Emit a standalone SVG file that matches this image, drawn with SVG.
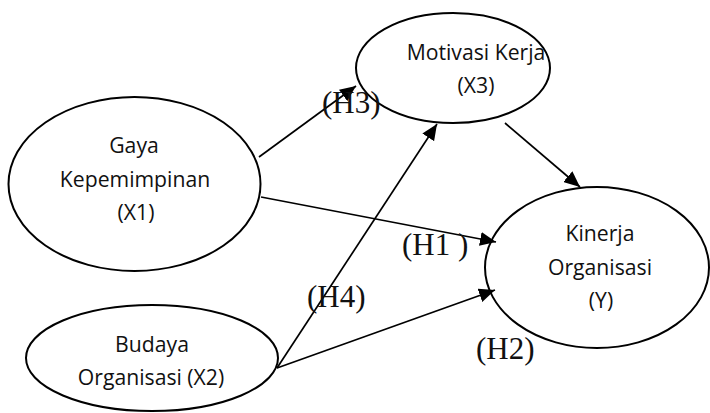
<svg xmlns="http://www.w3.org/2000/svg" width="710" height="413" viewBox="0 0 710 413">
<style>
.node ellipse{fill:#fff;stroke:#000;stroke-width:2}
.node text{font-family:"Open Sans","Liberation Sans",sans-serif;font-size:21.2px;fill:#111;text-anchor:middle}
.edges line{stroke:#000;stroke-width:1.7;marker-end:url(#arr)}
.lbl{font-family:"Liberation Serif","Times New Roman",serif;font-size:31px;fill:#111}
</style>
<defs>
<marker id="arr" markerUnits="userSpaceOnUse" markerWidth="18" markerHeight="14" refX="16" refY="7" orient="auto">
<path d="M0,0 L16,7 L0,14 Z" fill="#000"/>
</marker>
</defs>
<rect width="710" height="413" fill="#fff"/>
<g id="n-x3" class="node">
<ellipse cx="453" cy="68" rx="97" ry="55"/>
<text x="476" y="60">Motivasi Kerja</text>
<text x="476" y="93">(X3)</text>
</g>
<g id="n-x1" class="node">
<ellipse cx="134.5" cy="184" rx="126" ry="87"/>
<text x="134" y="153">Gaya</text>
<text x="135" y="187">Kepemimpinan</text>
<text x="136" y="220">(X1)</text>
</g>
<g id="n-x2" class="node">
<ellipse cx="152" cy="358" rx="126" ry="53"/>
<text x="152" y="352">Budaya</text>
<text x="151" y="385">Organisasi (X2)</text>
</g>
<g id="n-y" class="node">
<ellipse cx="597" cy="267.5" rx="112" ry="80.5"/>
<text x="600" y="241">Kinerja</text>
<text x="600" y="275">Organisasi</text>
<text x="601" y="308">(Y)</text>
</g>
<g id="edges" class="edges">
<line x1="259" y1="157" x2="356" y2="86"/>
<line x1="261" y1="197" x2="496" y2="242"/>
<line x1="505" y1="123" x2="580" y2="187"/>
<line x1="277" y1="368" x2="495" y2="290"/>
<line x1="277" y1="368" x2="437" y2="124"/>
</g>
<g id="labels">
<text class="lbl" x="322" y="113">(H3)</text>
<text class="lbl" x="402" y="255">(H1 )</text>
<text class="lbl" x="307" y="307">(H4)</text>
<text class="lbl" x="476" y="359">(H2)</text>
</g>
</svg>
